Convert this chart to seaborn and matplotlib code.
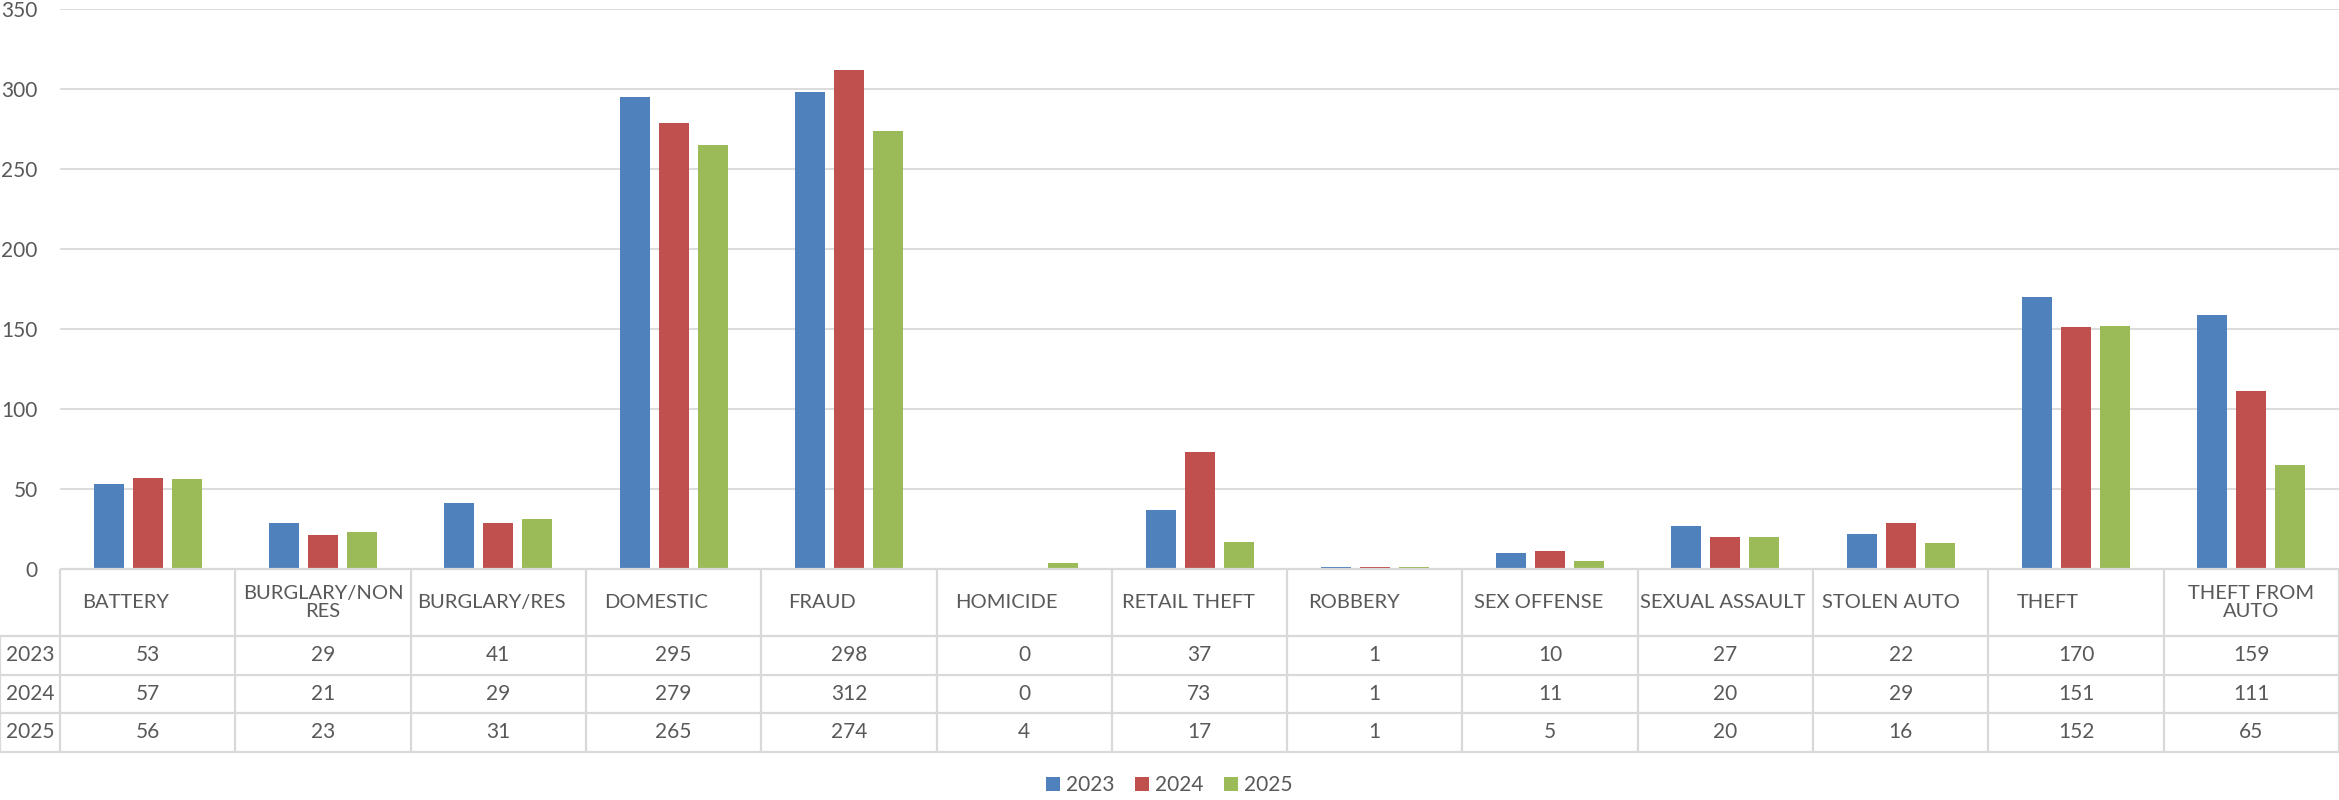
"""
- Gráfico de barras agrupadas por tipo de delito (2023-2025)
- Con tabla de datos debajo, al estilo Excel
"""

import matplotlib.pyplot as plt
import pandas as pd
import seaborn as sns

# Datos
categories = [
    "BATTERY", "BURGLARY/NON\nRES", "BURGLARY/RES", "DOMESTIC", "FRAUD",
    "HOMICIDE", "RETAIL THEFT", "ROBBERY", "SEX OFFENSE", "SEXUAL ASSAULT",
    "STOLEN AUTO", "THEFT", "THEFT FROM\nAUTO",
]
years = ["2023", "2024", "2025"]
values_2023 = [53, 29, 41, 295, 298, 0, 37, 1, 10, 27, 22, 170, 159]
values_2024 = [57, 21, 29, 279, 312, 0, 73, 1, 11, 20, 29, 151, 111]
values_2025 = [56, 23, 31, 265, 274, 4, 17, 1, 5, 20, 16, 152, 65]
colors = ["#4F81BD", "#C0504D", "#9BBB59"]
y_ticks = [0, 50, 100, 150, 200, 250, 300, 350]

TEXT = "#595959"
LINE = "#D9D9D9"
FONT_SIZE = 15
HEADER_SIZE = 14.5

# Medidas en píxeles (figura 2339x800 a 100 dpi)
FIG_W, FIG_H = 2339, 800
LEFT_COL = 60
COL_W = (FIG_W - LEFT_COL) / len(categories)
ZERO_Y, TOP_Y = 569, 9
HEADER_H, ROW_H = 67, 38.5
TABLE_H = HEADER_H + ROW_H * len(years)

sns.set_theme(style="white")
plt.rcParams["font.family"] = ["Lato", "DejaVu Sans"]

df = pd.DataFrame({
    "Delito": categories * 3,
    "Año": [y for y in years for _ in categories],
    "Casos": values_2023 + values_2024 + values_2025,
})

fig = plt.figure(figsize=(FIG_W / 100, FIG_H / 100), dpi=100)
ax = fig.add_axes([LEFT_COL / FIG_W, 1 - ZERO_Y / FIG_H, 1 - LEFT_COL / FIG_W, (ZERO_Y - TOP_Y) / FIG_H])

# Barras agrupadas
bar_step = 39 / COL_W
sns.barplot(
    data=df, x="Delito", y="Casos", hue="Año", palette=colors, saturation=1, ax=ax,
    width=bar_step * 3, gap=1 - 30 / 39, errorbar=None, linewidth=0,
)
ax.set_xlim(-0.5, len(categories) - 0.5)
ax.set_ylim(0, 350)
ax.set_yticks(y_ticks)
ax.set_xticks([])
ax.set_xlabel("")
ax.set_ylabel("")
ax.tick_params(axis="y", length=0, pad=16, labelsize=FONT_SIZE, labelcolor=TEXT)
ax.yaxis.grid(True, color=LINE, linewidth=1.3)
ax.set_axisbelow(True)
sns.despine(ax=ax, left=True, bottom=True)
handles, labels = ax.get_legend_handles_labels()
ax.get_legend().remove()

# Tabla de datos debajo del eje
tab = fig.add_axes([0, 1 - (ZERO_Y + TABLE_H) / FIG_H, 1, TABLE_H / FIG_H])
x_min = -0.5 - LEFT_COL / COL_W
x_max = len(categories) - 0.5
tab.set_xlim(x_min, x_max)
tab.set_ylim(TABLE_H, 0)
tab.axis("off")

row_lines = [HEADER_H + ROW_H * i for i in range(len(years) + 1)]
tab.hlines(0, -0.5, x_max, color=LINE, lw=1.6, clip_on=False)
tab.hlines(row_lines, x_min, x_max, color=LINE, lw=1.6, clip_on=False)
tab.vlines([i - 0.5 for i in range(len(categories) + 1)], 0, TABLE_H, color=LINE, lw=1.6, clip_on=False)
tab.vlines(x_min, HEADER_H, TABLE_H, color=LINE, lw=1.6, clip_on=False)

# Cabeceras: Excel centra las de varias líneas y desplaza las de una línea a la izquierda
single_line = []
for i, cat in enumerate(categories):
    if "\n" in cat:
        tab.text(i, HEADER_H / 2, cat, ha="center", va="center", multialignment="center",
                 fontsize=HEADER_SIZE, color=TEXT, linespacing=1.05)
    else:
        t = tab.text(i - 0.5, HEADER_H / 2, cat, ha="left", va="center", fontsize=HEADER_SIZE, color=TEXT)
        single_line.append((i, t))

fig.canvas.draw()
renderer = fig.canvas.get_renderer()
for i, t in single_line:
    w = t.get_window_extent(renderer).width
    t.set_x(i - 0.5 + max(COL_W - w, 8) / 4 / COL_W)

# Filas de valores
for r, (year, vals) in enumerate(zip(years, [values_2023, values_2024, values_2025])):
    y_mid = HEADER_H + ROW_H * (r + 0.5)
    tab.text((x_min - 0.5) / 2, y_mid, year, ha="center", va="center", fontsize=FONT_SIZE, color=TEXT)
    for i, v in enumerate(vals):
        tab.text(i, y_mid, str(v), ha="center", va="center", fontsize=FONT_SIZE, color=TEXT)

# Leyenda inferior
fig.legend(
    handles, labels, loc="center", bbox_to_anchor=(0.5, 1 - 785 / FIG_H), ncol=3, frameon=False,
    fontsize=FONT_SIZE, labelcolor=TEXT, handlelength=0.65, handleheight=0.65,
    handletextpad=0.3, columnspacing=1.0,
)

fig.savefig("out.png", dpi=100, facecolor="white")
plt.close(fig)
